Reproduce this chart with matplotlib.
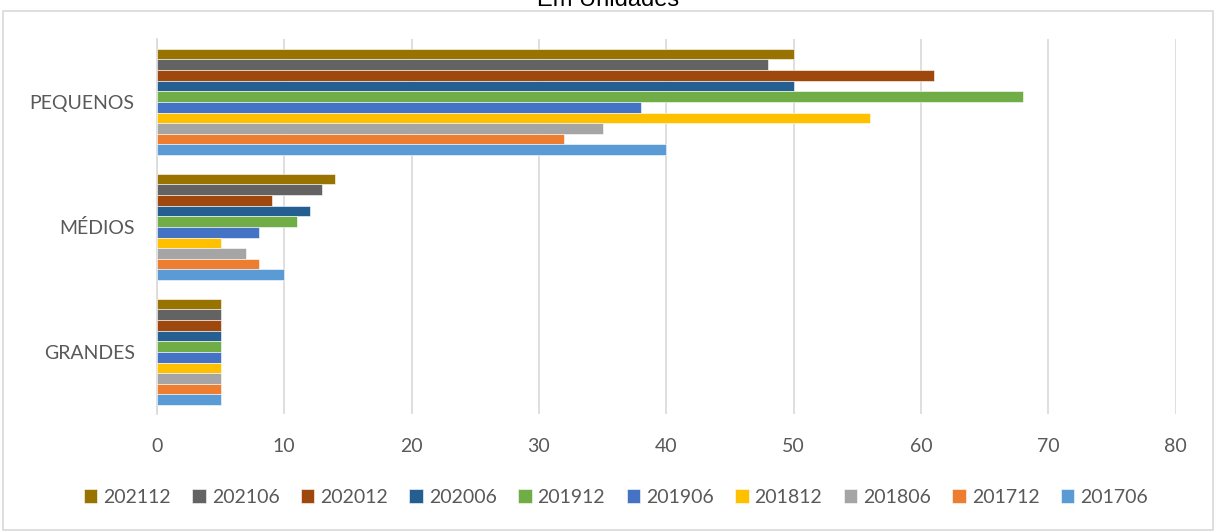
import matplotlib
matplotlib.use("Agg")
import matplotlib.pyplot as plt
from matplotlib.patches import Rectangle
import numpy as np

categories = ["PEQUENOS", "MÉDIOS", "GRANDES"]
series_names = ["202112", "202106", "202012", "202006", "201912",
                "201906", "201812", "201806", "201712", "201706"]
values = {
    "202112": [50, 14, 5],
    "202106": [48, 13, 5],
    "202012": [61, 9, 5],
    "202006": [50, 12, 5],
    "201912": [68, 11, 5],
    "201906": [38, 8, 5],
    "201812": [56, 5, 5],
    "201806": [35, 7, 5],
    "201712": [32, 8, 5],
    "201706": [40, 10, 5],
}
colors = ["#997300", "#636363", "#9E480E", "#255E91", "#70AD47",
          "#4472C4", "#FFC000", "#A5A5A5", "#ED7D31", "#5B9BD5"]
xticks = [0, 10, 20, 30, 40, 50, 60, 70, 80]

plt.rcParams['font.family'] = ['Lato', 'DejaVu Sans']

fig = plt.figure(figsize=(12.16, 5.32), dpi=100)
ax = fig.add_axes([0.129, 0.221, 0.838, 0.705])

n = len(series_names)
group_h = 0.85
bh = group_h / n
ypos = np.array([2, 1, 0], dtype=float)  # PEQUENOS top
for i, name in enumerate(series_names):
    offs = group_h / 2 - bh * (i + 0.5)
    ax.barh(ypos + offs, values[name], height=bh, color=colors[i],
            edgecolor="white", linewidth=0.4, label=name, zorder=3)

ax.set_ylim(-0.5, 2.5)
ax.set_xlim(0, 80)
ax.set_xticks(xticks)
ax.set_yticks(ypos)
ax.set_yticklabels(categories)
ax.grid(axis='x', color='#D9D9D9', linewidth=1.2, zorder=0)
for s in ['top', 'right', 'bottom']:
    ax.spines[s].set_visible(False)
ax.spines['left'].set_color('#D9D9D9')
ax.spines['left'].set_linewidth(1.2)
ax.tick_params(axis='both', length=0, labelsize=14, colors='#595959')
ax.tick_params(axis='x', pad=17)
ax.tick_params(axis='y', pad=16)

ax.legend(loc='center', bbox_to_anchor=(0.5065, 0.065), bbox_transform=fig.transFigure,
          ncol=10, frameon=False, fontsize=14, handlelength=0.7, handleheight=0.7,
          handletextpad=0.3, columnspacing=1.1, labelcolor='#595959')

fig.text(0.5, 1 - 6/532, "Em Unidades", ha='center', va='baseline', fontsize=17,
         family=['Liberation Sans Narrow', 'Liberation Sans', 'DejaVu Sans'])

fig.patches.append(Rectangle((3/1216, 2/532), 1210/1216, 519/532, transform=fig.transFigure,
                             fill=False, edgecolor='#D9D9D9', linewidth=1.2))

fig.savefig("out.png", dpi=100)
